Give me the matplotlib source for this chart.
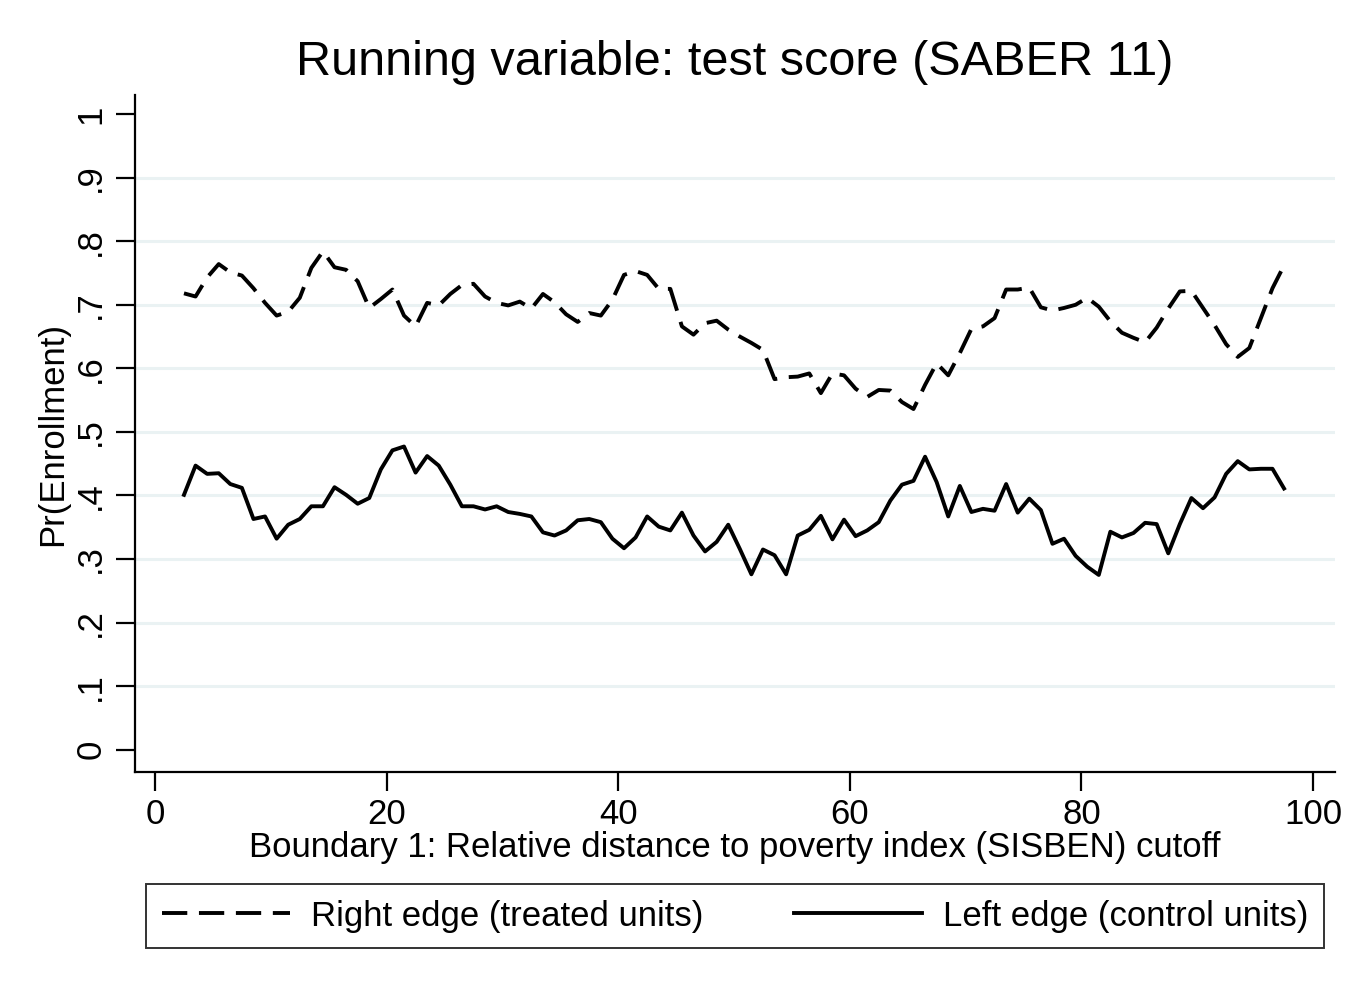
import numpy as np
import matplotlib
matplotlib.use("Agg")
import matplotlib.pyplot as plt

plt.rcParams['font.family'] = ['Liberation Sans', 'DejaVu Sans']

# distance to cutoff (bin midpoints)
dist = np.arange(2.5, 98.0, 1.0)

# right edge (treated units)
treated = [0.718, 0.713, 0.743, 0.764, 0.751, 0.746, 0.726, 0.703, 0.683, 0.689,
           0.711, 0.758, 0.784, 0.759, 0.755, 0.737, 0.695, 0.709, 0.724, 0.683,
           0.666, 0.703, 0.699, 0.717, 0.731, 0.733, 0.713, 0.703, 0.699, 0.705,
           0.694, 0.717, 0.704, 0.685, 0.673, 0.687, 0.683, 0.708, 0.747, 0.753,
           0.747, 0.725, 0.725, 0.666, 0.653, 0.671, 0.675, 0.661, 0.650, 0.640,
           0.629, 0.583, 0.586, 0.587, 0.592, 0.561, 0.592, 0.589, 0.568, 0.555,
           0.566, 0.565, 0.547, 0.536, 0.574, 0.608, 0.589, 0.624, 0.662, 0.666,
           0.679, 0.724, 0.724, 0.727, 0.696, 0.691, 0.695, 0.700, 0.711, 0.697,
           0.674, 0.656, 0.648, 0.641, 0.664, 0.694, 0.721, 0.722, 0.695, 0.668,
           0.638, 0.618, 0.632, 0.679, 0.726, 0.762]

# left edge (control units)
control = [0.401, 0.447, 0.434, 0.435, 0.418, 0.412, 0.363, 0.367, 0.332, 0.354,
           0.363, 0.383, 0.383, 0.413, 0.401, 0.387, 0.396, 0.441, 0.471, 0.477,
           0.436, 0.462, 0.447, 0.417, 0.383, 0.383, 0.378, 0.383, 0.374, 0.371,
           0.367, 0.342, 0.337, 0.345, 0.361, 0.363, 0.358, 0.332, 0.317, 0.334,
           0.367, 0.351, 0.345, 0.373, 0.337, 0.312, 0.327, 0.354, 0.316, 0.276,
           0.315, 0.306, 0.276, 0.337, 0.346, 0.368, 0.331, 0.362, 0.336, 0.345,
           0.358, 0.392, 0.417, 0.423, 0.461, 0.421, 0.367, 0.415, 0.374, 0.379,
           0.376, 0.418, 0.373, 0.395, 0.377, 0.324, 0.332, 0.305, 0.288, 0.275,
           0.343, 0.334, 0.341, 0.357, 0.355, 0.309, 0.355, 0.396, 0.380, 0.397,
           0.434, 0.454, 0.441, 0.442, 0.442, 0.411]

yticks = np.arange(0, 1.01, 0.1)
ylabels = ['0', '.1', '.2', '.3', '.4', '.5', '.6', '.7', '.8', '.9', '1']

fig = plt.figure(figsize=(13.7, 9.96), dpi=100)
ax = fig.add_axes([135/1370, 1 - 772/996, 1200/1370, 677/996])

for v in yticks[1:-1]:
    ax.axhline(v, color='#eaf2f3', lw=2.2, zorder=0)

l1, = ax.plot(dist, treated, color='black', lw=2.8, ls=(0, (6.5, 3.0)))
l2, = ax.plot(dist, control, color='black', lw=2.8)

ax.set_xlim(-1.73, 101.9)
ax.set_ylim(-0.035, 1.03)
ax.set_xticks([0, 20, 40, 60, 80, 100])
ax.set_yticks(yticks)
ax.set_yticklabels(ylabels, rotation=90, va='center')
ax.tick_params(labelsize=25, length=14, width=1.6)
ax.tick_params(axis='x', pad=5)
ax.tick_params(axis='y', pad=6)
ax.spines['top'].set_visible(False)
ax.spines['right'].set_visible(False)
for s in ['left', 'bottom']:
    ax.spines[s].set_linewidth(1.6)

ax.set_xlabel('Boundary 1: Relative distance to poverty index (SISBEN) cutoff',
              fontsize=25, labelpad=0)
ax.set_ylabel('Pr(Enrollment)', fontsize=25, labelpad=4)
fig.suptitle('Running variable: test score (SABER 11)', fontsize=35,
             x=735/1370, y=1 - 40/996, va='top')

leg = fig.legend([l1, l2], ['Right edge (treated units)', 'Left edge (control units)'],
                 ncol=2, loc='center', bbox_to_anchor=(735/1370, 1 - 916/996),
                 fontsize=25, frameon=True, fancybox=False, handlelength=3.7,
                 columnspacing=2.6, borderpad=0.45, handletextpad=0.6)
leg.get_frame().set_edgecolor('black')
leg.get_frame().set_linewidth(1.4)

fig.savefig('out.png', dpi=100)
